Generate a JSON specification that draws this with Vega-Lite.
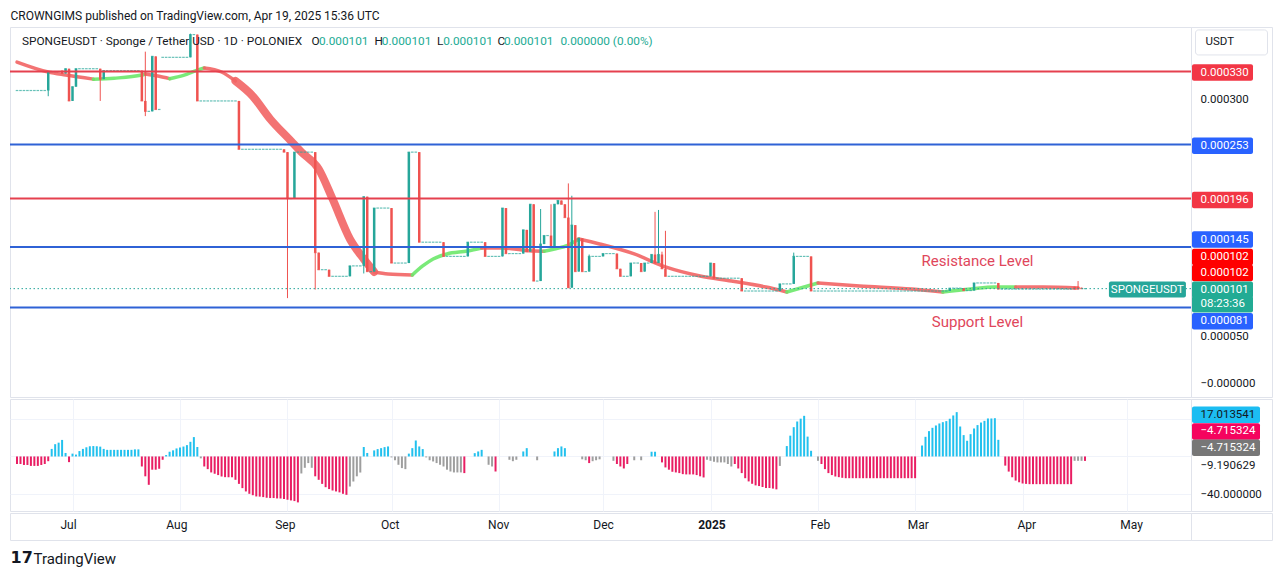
{
"$schema":"https://vega.github.io/schema/vega-lite/v6.json",
"background":"#ffffff",
"padding":{"left":8,"top":9,"right":0,"bottom":0},
"title":{"text":"CROWNGIMS published on TradingView.com, Apr 19, 2025 15:36 UTC","anchor":"start","frame":"bounds","fontSize":12,"fontWeight":"normal","color":"#131722","offset":4,"dx":2},
"config":{
 "font":"Roboto",
 "view":{"stroke":"#e0e3eb","strokeWidth":1},
 "concat":{"spacing":0},
 "axis":{"labels":false,"ticks":false,"domain":false,"grid":true,"gridColor":"#f0f3fa","gridWidth":1}
},
"datasets":{
"levels":[{"v":0.00033,"k":"r"},{"v":0.000253,"k":"b"},{"v":0.000196,"k":"r"},{"v":0.000145,"k":"b"},{"v":0.000081,"k":"b"}],
"last":[{"p":0.000101}],
"logo":[{"t":"17"}],
"legend":[
{"d":"2024-06-16T10:00:00Z","p":0.0003622,"t":"SPONGEUSDT · Sponge / Tether USD · 1D · POLONIEX","k":"k"},
{"d":"2024-09-07T22:00:00Z","p":0.0003622,"t":"O","k":"k"},
{"d":"2024-09-10T02:00:00Z","p":0.0003622,"t":"0.000101","k":"g"},
{"d":"2024-09-26T02:00:00Z","p":0.0003622,"t":"H","k":"k"},
{"d":"2024-09-28T05:00:00Z","p":0.0003622,"t":"0.000101","k":"g"},
{"d":"2024-10-14T03:00:00Z","p":0.0003622,"t":"L","k":"k"},
{"d":"2024-10-15T22:00:00Z","p":0.0003622,"t":"0.000101","k":"g"},
{"d":"2024-10-31T13:00:00Z","p":0.0003622,"t":"C","k":"k"},
{"d":"2024-11-02T10:00:00Z","p":0.0003622,"t":"0.000101","k":"g"},
{"d":"2024-11-18T17:00:00Z","p":0.0003622,"t":"0.000000 (0.00%)","k":"g"}
],
"annot":[{"d":"2025-03-19","p":0.0001305,"t":"Resistance Level"},{"d":"2025-03-19","p":0.0000655,"t":"Support Level"}],
"sym":[{"d":"2025-05-07","p":0.0001,"t":"SPONGEUSDT"}],
"usdt":[{"at":0.0003607,"t":"USDT"}],
"plabels":[
{"at":0.000329,"t":"0.000330","k":"r"},
{"at":0.0003,"t":"0.000300","k":"p"},
{"at":0.0002518,"t":"0.000253","k":"b"},
{"at":0.0001945,"t":"0.000196","k":"r"},
{"at":0.0001528,"t":"0.000145","k":"b"},
{"at":0.0001344,"t":"0.000102","k":"x"},
{"at":0.0001175,"t":"0.000102","k":"x"},
{"at":0.0000999,"t":"0.000101","k":"t"},
{"at":0.0000845,"t":"08:23:36","k":"t"},
{"at":0.0000666,"t":"0.000081","k":"b"},
{"at":0.00005,"t":"0.000050","k":"p"},
{"at":0,"t":"−0.000000","k":"p"}
],
"hlabels":[
{"at":44.1,"t":"17.013541","k":"c"},
{"at":26.5,"t":"−4.715324","k":"m"},
{"at":9.3,"t":"−4.715324","k":"g"},
{"at":-10,"t":"−9.190629","k":"p"},
{"at":-40.5,"t":"−40.000000","k":"p"}
],
"ma":[
{"d":"2024-06-15","m":0.00034,"s":1,"dir":"dn"},
{"d":"2024-06-24","m":0.0003295,"s":1,"dir":"dn"},
{"d":"2024-06-29","m":0.0003263,"s":1,"dir":"dn"},
{"d":"2024-07-07","m":0.000322,"s":1,"dir":"dn"},
{"d":"2024-07-07","m":0.000322,"s":2,"dir":"up"},
{"d":"2024-07-13","m":0.000323,"s":2,"dir":"up"},
{"d":"2024-07-21","m":0.0003263,"s":2,"dir":"up"},
{"d":"2024-07-22","m":0.0003274,"s":2,"dir":"up"},
{"d":"2024-07-22","m":0.0003274,"s":3,"dir":"dn"},
{"d":"2024-07-26","m":0.000325,"s":3,"dir":"dn"},
{"d":"2024-07-29","m":0.0003225,"s":3,"dir":"dn"},
{"d":"2024-07-29","m":0.0003225,"s":4,"dir":"up"},
{"d":"2024-08-02","m":0.000326,"s":4,"dir":"up"},
{"d":"2024-08-06","m":0.0003316,"s":4,"dir":"up"},
{"d":"2024-08-08","m":0.0003338,"s":4,"dir":"up"},
{"d":"2024-08-08","m":0.0003338,"s":5,"dir":"dn"},
{"d":"2024-08-13","m":0.0003295,"s":5,"dir":"dn"},
{"d":"2024-08-17","m":0.00032,"s":5,"dir":"dn"},
{"d":"2024-08-17","m":0.00032,"s":6,"dir":"dn"},
{"d":"2024-08-22","m":0.000304,"s":6,"dir":"dn"},
{"d":"2024-08-27","m":0.00028,"s":6,"dir":"dn"},
{"d":"2024-09-02","m":0.0002568,"s":6,"dir":"dn"},
{"d":"2024-09-05","m":0.0002451,"s":6,"dir":"dn"},
{"d":"2024-09-10","m":0.0002272,"s":6,"dir":"dn"},
{"d":"2024-09-14","m":0.0001956,"s":6,"dir":"dn"},
{"d":"2024-09-19","m":0.0001534,"s":6,"dir":"dn"},
{"d":"2024-09-23","m":0.0001323,"s":6,"dir":"dn"},
{"d":"2024-09-26","m":0.0001186,"s":6,"dir":"dn"},
{"d":"2024-09-26","m":0.0001186,"s":7,"dir":"dn"},
{"d":"2024-09-30","m":0.0001165,"s":7,"dir":"dn"},
{"d":"2024-10-07","m":0.0001154,"s":7,"dir":"dn"},
{"d":"2024-10-07","m":0.0001154,"s":8,"dir":"up"},
{"d":"2024-10-10","m":0.0001249,"s":8,"dir":"up"},
{"d":"2024-10-13","m":0.0001323,"s":8,"dir":"up"},
{"d":"2024-10-17","m":0.0001376,"s":8,"dir":"up"},
{"d":"2024-10-23","m":0.0001407,"s":8,"dir":"up"},
{"d":"2024-10-27","m":0.0001439,"s":8,"dir":"up"},
{"d":"2024-10-27","m":0.0001439,"s":9,"dir":"dn"},
{"d":"2024-11-02","m":0.0001439,"s":9,"dir":"dn"},
{"d":"2024-11-06","m":0.0001425,"s":9,"dir":"dn"},
{"d":"2024-11-11","m":0.0001407,"s":9,"dir":"dn"},
{"d":"2024-11-14","m":0.0001405,"s":9,"dir":"dn"},
{"d":"2024-11-14","m":0.0001405,"s":10,"dir":"up"},
{"d":"2024-11-17","m":0.0001428,"s":10,"dir":"up"},
{"d":"2024-11-21","m":0.000147,"s":10,"dir":"up"},
{"d":"2024-11-24","m":0.0001534,"s":10,"dir":"up"},
{"d":"2024-11-24","m":0.0001534,"s":11,"dir":"dn"},
{"d":"2024-11-30","m":0.0001481,"s":11,"dir":"dn"},
{"d":"2024-12-10","m":0.0001376,"s":11,"dir":"dn"},
{"d":"2024-12-19","m":0.0001239,"s":11,"dir":"dn"},
{"d":"2024-12-29","m":0.0001143,"s":11,"dir":"dn"},
{"d":"2025-01-07","m":0.0001091,"s":11,"dir":"dn"},
{"d":"2025-01-17","m":0.0001027,"s":11,"dir":"dn"},
{"d":"2025-01-23","m":0.0000975,"s":11,"dir":"dn"},
{"d":"2025-01-23","m":0.0000975,"s":12,"dir":"up"},
{"d":"2025-01-28","m":0.0001027,"s":12,"dir":"up"},
{"d":"2025-02-01","m":0.000107,"s":12,"dir":"up"},
{"d":"2025-02-01","m":0.000107,"s":13,"dir":"dn"},
{"d":"2025-02-13","m":0.0001038,"s":13,"dir":"dn"},
{"d":"2025-02-28","m":0.0001006,"s":13,"dir":"dn"},
{"d":"2025-03-09","m":0.0000975,"s":13,"dir":"dn"},
{"d":"2025-03-09","m":0.0000975,"s":14,"dir":"up"},
{"d":"2025-03-17","m":0.0001006,"s":14,"dir":"up"},
{"d":"2025-03-24","m":0.0001027,"s":14,"dir":"up"},
{"d":"2025-03-30","m":0.0001027,"s":14,"dir":"up"},
{"d":"2025-03-30","m":0.0001027,"s":15,"dir":"dn"},
{"d":"2025-04-07","m":0.0001027,"s":15,"dir":"dn"},
{"d":"2025-04-17","m":0.0001017,"s":15,"dir":"dn"}
],
"candles":[
{"d":"2024-06-15","c":0.00031},{"d":"2024-06-16","c":0.00031},{"d":"2024-06-17","c":0.00031},{"d":"2024-06-18","c":0.00031},{"d":"2024-06-19","c":0.00031},{"d":"2024-06-20","c":0.00031},{"d":"2024-06-21","c":0.00031},{"d":"2024-06-22","c":0.00031},{"d":"2024-06-23","c":0.00031},
{"d":"2024-06-24","o":0.00031,"h":0.00033,"l":0.000304,"c":0.00033},
{"d":"2024-06-25","c":0.00033},{"d":"2024-06-26","c":0.00033},{"d":"2024-06-27","c":0.00033},
{"d":"2024-06-28","o":0.000331,"h":0.000331,"l":0.000328,"c":0.000328},
{"d":"2024-06-29","o":0.000328,"h":0.000333,"l":0.000328,"c":0.000333},
{"d":"2024-06-30","o":0.000333,"h":0.000333,"l":0.000299,"c":0.000299},
{"d":"2024-07-01","o":0.000299,"h":0.000314,"l":0.000299,"c":0.000314},
{"d":"2024-07-02","o":0.000314,"h":0.000333,"l":0.000314,"c":0.000333},
{"d":"2024-07-03","c":0.000333},{"d":"2024-07-04","c":0.000333},{"d":"2024-07-05","c":0.000333},{"d":"2024-07-06","c":0.000333},{"d":"2024-07-07","c":0.000333},{"d":"2024-07-08","c":0.000333},
{"d":"2024-07-09","o":0.000333,"h":0.000333,"l":0.000299,"c":0.000322},
{"d":"2024-07-10","o":0.000322,"h":0.000331,"l":0.000322,"c":0.000331},
{"d":"2024-07-11","c":0.000331},{"d":"2024-07-12","c":0.000331},{"d":"2024-07-13","c":0.000331},{"d":"2024-07-14","c":0.000331},{"d":"2024-07-15","c":0.000331},{"d":"2024-07-16","c":0.000331},{"d":"2024-07-17","c":0.000331},{"d":"2024-07-18","c":0.000331},{"d":"2024-07-19","c":0.000331},{"d":"2024-07-20","c":0.000331},
{"d":"2024-07-21","o":0.000331,"h":0.000331,"l":0.000299,"c":0.000299},
{"d":"2024-07-22","o":0.000299,"h":0.000351,"l":0.000283,"c":0.000288},
{"d":"2024-07-23","c":0.000288},
{"d":"2024-07-24","o":0.000288,"h":0.000346,"l":0.000288,"c":0.000346},
{"d":"2024-07-25","o":0.000346,"h":0.000346,"l":0.00029,"c":0.00029},
{"d":"2024-07-26","c":0.00029},
{"d":"2024-07-27","c":0.000345},{"d":"2024-07-28","c":0.000345},{"d":"2024-07-29","c":0.000345},{"d":"2024-07-30","c":0.000345},{"d":"2024-07-31","c":0.000345},{"d":"2024-08-01","c":0.000345},{"d":"2024-08-02","c":0.000345},{"d":"2024-08-03","c":0.000345},
{"d":"2024-08-04","o":0.000345,"h":0.00037,"l":0.000345,"c":0.000369},
{"d":"2024-08-05","c":0.000369},
{"d":"2024-08-06","o":0.000369,"h":0.000369,"l":0.000299,"c":0.000299},
{"d":"2024-08-07","c":0.000299},{"d":"2024-08-08","c":0.000299},{"d":"2024-08-09","c":0.000299},{"d":"2024-08-10","c":0.000299},{"d":"2024-08-11","c":0.000299},{"d":"2024-08-12","c":0.000299},{"d":"2024-08-13","c":0.000299},{"d":"2024-08-14","c":0.000299},{"d":"2024-08-15","c":0.000299},{"d":"2024-08-16","c":0.000299},{"d":"2024-08-17","c":0.000299},
{"d":"2024-08-18","o":0.000299,"h":0.000299,"l":0.000248,"c":0.000248},
{"d":"2024-08-19","c":0.000248},{"d":"2024-08-20","c":0.000248},{"d":"2024-08-21","c":0.000248},{"d":"2024-08-22","c":0.000248},{"d":"2024-08-23","c":0.000248},{"d":"2024-08-24","c":0.000248},{"d":"2024-08-25","c":0.000248},{"d":"2024-08-26","c":0.000248},{"d":"2024-08-27","c":0.000248},{"d":"2024-08-28","c":0.000248},{"d":"2024-08-29","c":0.000248},{"d":"2024-08-30","c":0.000248},
{"d":"2024-08-31","o":0.000248,"h":0.000248,"l":0.000245,"c":0.000245},
{"d":"2024-09-01","o":0.000245,"h":0.000245,"l":0.000091,"c":0.000196},
{"d":"2024-09-02","c":0.000196},
{"d":"2024-09-03","o":0.000196,"h":0.000245,"l":0.000196,"c":0.000245},
{"d":"2024-09-04","c":0.000245},{"d":"2024-09-05","c":0.000245},{"d":"2024-09-06","c":0.000245},{"d":"2024-09-07","c":0.000245},{"d":"2024-09-08","c":0.000245},
{"d":"2024-09-09","o":0.000245,"h":0.000245,"l":0.0001,"c":0.000139},
{"d":"2024-09-10","o":0.000139,"h":0.000139,"l":0.000121,"c":0.000121},
{"d":"2024-09-11","c":0.000121},{"d":"2024-09-12","c":0.000121},
{"d":"2024-09-13","o":0.000121,"h":0.000121,"l":0.000114,"c":0.000114},
{"d":"2024-09-14","c":0.000114},{"d":"2024-09-15","c":0.000114},{"d":"2024-09-16","c":0.000114},{"d":"2024-09-17","c":0.000114},{"d":"2024-09-18","c":0.000114},
{"d":"2024-09-19","o":0.000114,"h":0.000125,"l":0.000114,"c":0.000125},
{"d":"2024-09-20","c":0.000125},{"d":"2024-09-21","c":0.000125},{"d":"2024-09-22","c":0.000125},
{"d":"2024-09-23","o":0.000125,"h":0.000198,"l":0.000117,"c":0.000198},
{"d":"2024-09-24","o":0.000198,"h":0.000198,"l":0.000119,"c":0.000119},
{"d":"2024-09-25","c":0.000119},
{"d":"2024-09-26","o":0.000119,"h":0.000186,"l":0.000119,"c":0.000186},
{"d":"2024-09-27","c":0.000186},{"d":"2024-09-28","c":0.000186},{"d":"2024-09-29","c":0.000186},{"d":"2024-09-30","c":0.000186},
{"d":"2024-10-01","o":0.000186,"h":0.000186,"l":0.000128,"c":0.000128},
{"d":"2024-10-02","c":0.000128},{"d":"2024-10-03","c":0.000128},{"d":"2024-10-04","c":0.000128},{"d":"2024-10-05","c":0.000128},
{"d":"2024-10-06","o":0.000128,"h":0.000245,"l":0.000128,"c":0.000245},
{"d":"2024-10-07","c":0.000245},{"d":"2024-10-08","c":0.000245},
{"d":"2024-10-09","o":0.000245,"h":0.000245,"l":0.00015,"c":0.00015},
{"d":"2024-10-10","c":0.00015},{"d":"2024-10-11","c":0.00015},{"d":"2024-10-12","c":0.00015},{"d":"2024-10-13","c":0.00015},{"d":"2024-10-14","c":0.00015},{"d":"2024-10-15","c":0.00015},
{"d":"2024-10-16","o":0.00015,"h":0.00015,"l":0.000135,"c":0.000135},
{"d":"2024-10-17","c":0.000135},{"d":"2024-10-18","c":0.000135},{"d":"2024-10-19","c":0.000135},{"d":"2024-10-20","c":0.000135},{"d":"2024-10-21","c":0.000135},{"d":"2024-10-22","c":0.000135},
{"d":"2024-10-23","o":0.000135,"h":0.00015,"l":0.000135,"c":0.00015},
{"d":"2024-10-24","c":0.00015},{"d":"2024-10-25","c":0.00015},{"d":"2024-10-26","c":0.00015},{"d":"2024-10-27","c":0.00015},
{"d":"2024-10-28","o":0.00015,"h":0.00015,"l":0.000135,"c":0.000135},
{"d":"2024-10-29","c":0.000135},{"d":"2024-10-30","c":0.000135},{"d":"2024-10-31","c":0.000135},{"d":"2024-11-01","c":0.000135},
{"d":"2024-11-02","o":0.000135,"h":0.000186,"l":0.000135,"c":0.000186},
{"d":"2024-11-03","o":0.000186,"h":0.000186,"l":0.000138,"c":0.000138},
{"d":"2024-11-04","c":0.000138},{"d":"2024-11-05","c":0.000138},{"d":"2024-11-06","c":0.000138},{"d":"2024-11-07","c":0.000138},
{"d":"2024-11-08","o":0.000138,"h":0.000163,"l":0.000138,"c":0.000163},
{"d":"2024-11-09","o":0.000163,"h":0.000163,"l":0.00014,"c":0.00014},
{"d":"2024-11-10","o":0.00014,"h":0.00019,"l":0.00014,"c":0.00019},
{"d":"2024-11-11","o":0.00019,"h":0.00019,"l":0.000109,"c":0.000109},
{"d":"2024-11-12","c":0.000109},
{"d":"2024-11-13","o":0.000109,"h":0.000185,"l":0.000109,"c":0.000148},
{"d":"2024-11-14","o":0.000148,"h":0.000157,"l":0.000148,"c":0.000157},
{"d":"2024-11-15","c":0.000157},
{"d":"2024-11-16","o":0.000157,"h":0.00019,"l":0.000145,"c":0.000145},
{"d":"2024-11-17","o":0.000145,"h":0.00019,"l":0.000145,"c":0.00019},
{"d":"2024-11-18","o":0.00019,"h":0.000194,"l":0.00019,"c":0.000194},
{"d":"2024-11-19","o":0.000194,"h":0.000194,"l":0.00019,"c":0.00019},
{"d":"2024-11-20","o":0.00019,"h":0.00019,"l":0.000176,"c":0.000176},
{"d":"2024-11-21","o":0.000176,"h":0.000212,"l":0.000102,"c":0.000102},
{"d":"2024-11-22","o":0.000102,"h":0.000199,"l":0.000102,"c":0.000168},
{"d":"2024-11-23","o":0.000168,"h":0.000168,"l":0.000119,"c":0.000119},
{"d":"2024-11-24","o":0.000119,"h":0.000154,"l":0.000119,"c":0.000154},
{"d":"2024-11-25","o":0.000154,"h":0.000154,"l":0.000119,"c":0.000119},
{"d":"2024-11-26","c":0.000119},
{"d":"2024-11-27","o":0.000119,"h":0.000137,"l":0.000119,"c":0.000135},
{"d":"2024-11-28","c":0.000135},{"d":"2024-11-29","c":0.000135},{"d":"2024-11-30","c":0.000135},
{"d":"2024-12-01","o":0.000135,"h":0.000138,"l":0.000135,"c":0.000138},
{"d":"2024-12-02","c":0.000138},{"d":"2024-12-03","c":0.000138},{"d":"2024-12-04","c":0.000138},
{"d":"2024-12-05","o":0.000138,"h":0.000138,"l":0.000122,"c":0.000122},
{"d":"2024-12-06","o":0.000122,"h":0.000122,"l":0.000114,"c":0.000114},
{"d":"2024-12-07","c":0.000114},{"d":"2024-12-08","c":0.000114},
{"d":"2024-12-09","o":0.000114,"h":0.000128,"l":0.000114,"c":0.000128},
{"d":"2024-12-10","c":0.000128},{"d":"2024-12-11","c":0.000128},
{"d":"2024-12-12","o":0.000128,"h":0.000128,"l":0.000119,"c":0.000119},
{"d":"2024-12-13","o":0.000119,"h":0.000128,"l":0.000119,"c":0.000128},
{"d":"2024-12-14","c":0.000128},
{"d":"2024-12-15","o":0.000128,"h":0.000137,"l":0.000128,"c":0.000137},
{"d":"2024-12-16","o":0.000137,"h":0.000182,"l":0.000128,"c":0.000128},
{"d":"2024-12-17","o":0.000128,"h":0.000184,"l":0.000128,"c":0.000137},
{"d":"2024-12-18","o":0.000137,"h":0.00014,"l":0.000122,"c":0.000122},
{"d":"2024-12-19","o":0.000122,"h":0.000162,"l":0.000114,"c":0.000114},
{"d":"2024-12-20","c":0.000114},{"d":"2024-12-21","c":0.000114},{"d":"2024-12-22","c":0.000114},{"d":"2024-12-23","c":0.000114},{"d":"2024-12-24","c":0.000114},{"d":"2024-12-25","c":0.000114},{"d":"2024-12-26","c":0.000114},{"d":"2024-12-27","c":0.000114},{"d":"2024-12-28","c":0.000114},{"d":"2024-12-29","c":0.000114},{"d":"2024-12-30","c":0.000114},{"d":"2024-12-31","c":0.000114},
{"d":"2025-01-01","o":0.000114,"h":0.000128,"l":0.000114,"c":0.000128},
{"d":"2025-01-02","o":0.000128,"h":0.000128,"l":0.000112,"c":0.000112},
{"d":"2025-01-03","c":0.000112},{"d":"2025-01-04","c":0.000112},{"d":"2025-01-05","c":0.000112},{"d":"2025-01-06","c":0.000112},{"d":"2025-01-07","c":0.000112},{"d":"2025-01-08","c":0.000112},{"d":"2025-01-09","c":0.000112},
{"d":"2025-01-10","o":0.000112,"h":0.000112,"l":0.0000985,"c":0.0000985},
{"d":"2025-01-11","c":0.0000985},{"d":"2025-01-12","c":0.0000985},{"d":"2025-01-13","c":0.0000985},{"d":"2025-01-14","c":0.0000985},{"d":"2025-01-15","c":0.0000985},{"d":"2025-01-16","c":0.0000985},{"d":"2025-01-17","c":0.0000985},{"d":"2025-01-18","c":0.0000985},{"d":"2025-01-19","c":0.0000985},{"d":"2025-01-20","c":0.0000985},
{"d":"2025-01-21","o":0.0000985,"h":0.000106,"l":0.0000985,"c":0.000106},
{"d":"2025-01-22","c":0.000106},{"d":"2025-01-23","c":0.000106},{"d":"2025-01-24","c":0.000106},
{"d":"2025-01-25","o":0.000106,"h":0.000139,"l":0.000106,"c":0.000135},
{"d":"2025-01-26","c":0.000135},{"d":"2025-01-27","c":0.000135},{"d":"2025-01-28","c":0.000135},{"d":"2025-01-29","c":0.000135},
{"d":"2025-01-30","o":0.000135,"h":0.000135,"l":0.0000985,"c":0.0000985},
{"d":"2025-01-31","c":0.0000985},
{"d":"2025-02-01","c":0.0000985},{"d":"2025-02-02","c":0.0000985},{"d":"2025-02-03","c":0.0000985},{"d":"2025-02-04","c":0.0000985},{"d":"2025-02-05","c":0.0000985},{"d":"2025-02-06","c":0.0000985},{"d":"2025-02-07","c":0.0000985},{"d":"2025-02-08","c":0.0000985},{"d":"2025-02-09","c":0.0000985},{"d":"2025-02-10","c":0.0000985},{"d":"2025-02-11","c":0.0000985},{"d":"2025-02-12","c":0.0000985},{"d":"2025-02-13","c":0.0000985},{"d":"2025-02-14","c":0.0000985},
{"d":"2025-02-15","c":0.0000985},{"d":"2025-02-16","c":0.0000985},{"d":"2025-02-17","c":0.0000985},{"d":"2025-02-18","c":0.0000985},{"d":"2025-02-19","c":0.0000985},{"d":"2025-02-20","c":0.0000985},{"d":"2025-02-21","c":0.0000985},{"d":"2025-02-22","c":0.0000985},{"d":"2025-02-23","c":0.0000985},{"d":"2025-02-24","c":0.0000985},{"d":"2025-02-25","c":0.0000985},{"d":"2025-02-26","c":0.0000985},{"d":"2025-02-27","c":0.0000985},{"d":"2025-02-28","c":0.0000985},
{"d":"2025-03-01","c":0.0000985},{"d":"2025-03-02","c":0.0000985},{"d":"2025-03-03","c":0.0000985},{"d":"2025-03-04","c":0.0000985},{"d":"2025-03-05","c":0.0000985},{"d":"2025-03-06","c":0.0000985},{"d":"2025-03-07","c":0.0000985},{"d":"2025-03-08","c":0.0000985},{"d":"2025-03-09","c":0.0000985},{"d":"2025-03-10","c":0.0000985},
{"d":"2025-03-11","o":0.0000985,"h":0.0001015,"l":0.0000985,"c":0.0001015},
{"d":"2025-03-12","c":0.0001015},{"d":"2025-03-13","c":0.0001015},{"d":"2025-03-14","c":0.0001015},
{"d":"2025-03-15","o":0.0001015,"h":0.0001015,"l":0.000099,"c":0.000099},
{"d":"2025-03-16","c":0.000099},{"d":"2025-03-17","c":0.000099},
{"d":"2025-03-18","o":0.000099,"h":0.000107,"l":0.000099,"c":0.000107},
{"d":"2025-03-19","c":0.000107},{"d":"2025-03-20","c":0.000107},{"d":"2025-03-21","c":0.000107},{"d":"2025-03-22","c":0.000107},{"d":"2025-03-23","c":0.000107},{"d":"2025-03-24","c":0.000107},
{"d":"2025-03-25","o":0.000107,"h":0.000107,"l":0.0001005,"c":0.0001005},
{"d":"2025-03-26","c":0.0001005},{"d":"2025-03-27","c":0.0001005},{"d":"2025-03-28","c":0.0001005},{"d":"2025-03-29","c":0.0001005},{"d":"2025-03-30","c":0.0001005},{"d":"2025-03-31","c":0.0001005},
{"d":"2025-04-01","c":0.0001005},{"d":"2025-04-02","c":0.0001005},{"d":"2025-04-03","c":0.0001005},{"d":"2025-04-04","c":0.0001005},{"d":"2025-04-05","c":0.0001005},{"d":"2025-04-06","c":0.0001005},{"d":"2025-04-07","c":0.0001005},{"d":"2025-04-08","c":0.0001005},{"d":"2025-04-09","c":0.0001005},{"d":"2025-04-10","c":0.0001005},{"d":"2025-04-11","c":0.0001005},{"d":"2025-04-12","c":0.0001005},{"d":"2025-04-13","c":0.0001005},{"d":"2025-04-14","c":0.0001005},{"d":"2025-04-15","c":0.0001005},
{"d":"2025-04-16","o":0.000103,"h":0.000103,"l":0.0001005,"c":0.0001005},
{"d":"2025-04-17","o":0.000103,"h":0.000109,"l":0.000101,"c":0.000101},
{"d":"2025-04-18","o":0.000102,"h":0.000102,"l":0.000101,"c":0.000101},
{"d":"2025-04-19","c":0.000101}
],
"hist":[
{"d":"2024-06-15","v":-8,"k":"d"},{"d":"2024-06-16","v":-8,"k":"d"},{"d":"2024-06-17","v":-9,"k":"d"},{"d":"2024-06-18","v":-9,"k":"d"},{"d":"2024-06-19","v":-10,"k":"d"},{"d":"2024-06-20","v":-10,"k":"d"},{"d":"2024-06-21","v":-10,"k":"d"},{"d":"2024-06-22","v":-9,"k":"d"},{"d":"2024-06-23","v":-8,"k":"d"},{"d":"2024-06-24","v":-5,"k":"d"},
{"d":"2024-06-25","v":8,"k":"u"},{"d":"2024-06-26","v":13,"k":"u"},{"d":"2024-06-27","v":14.6,"k":"u"},{"d":"2024-06-28","v":17.5,"k":"u"},{"d":"2024-06-29","v":3.7,"k":"u"},{"d":"2024-06-30","v":-6,"k":"d"},
{"d":"2024-07-01","v":3,"k":"u"},{"d":"2024-07-02","v":2,"k":"u"},{"d":"2024-07-03","v":5.7,"k":"u"},{"d":"2024-07-04","v":8,"k":"u"},{"d":"2024-07-05","v":9.7,"k":"u"},{"d":"2024-07-06","v":10.8,"k":"u"},{"d":"2024-07-07","v":11,"k":"u"},{"d":"2024-07-08","v":10.8,"k":"u"},{"d":"2024-07-09","v":10.4,"k":"u"},{"d":"2024-07-10","v":8,"k":"u"},
{"d":"2024-07-11","v":7,"k":"u"},{"d":"2024-07-12","v":7,"k":"u"},{"d":"2024-07-13","v":7,"k":"u"},{"d":"2024-07-14","v":7,"k":"u"},{"d":"2024-07-15","v":7,"k":"u"},{"d":"2024-07-16","v":7,"k":"u"},{"d":"2024-07-17","v":7,"k":"u"},{"d":"2024-07-18","v":7,"k":"u"},{"d":"2024-07-19","v":7.5,"k":"u"},{"d":"2024-07-20","v":7.5,"k":"u"},
{"d":"2024-07-21","v":-10.6,"k":"d"},{"d":"2024-07-22","v":-21,"k":"d"},{"d":"2024-07-23","v":-30,"k":"d"},{"d":"2024-07-24","v":-14,"k":"d"},{"d":"2024-07-25","v":-14,"k":"d"},{"d":"2024-07-26","v":-13,"k":"d"},{"d":"2024-07-27","v":-3.5,"k":"d"},
{"d":"2024-07-28","v":1.5,"k":"u"},{"d":"2024-07-29","v":5,"k":"u"},{"d":"2024-07-30","v":6.5,"k":"u"},{"d":"2024-07-31","v":8.5,"k":"u"},{"d":"2024-08-01","v":9.5,"k":"u"},{"d":"2024-08-02","v":10.5,"k":"u"},{"d":"2024-08-03","v":12,"k":"u"},{"d":"2024-08-04","v":15.5,"k":"u"},{"d":"2024-08-05","v":20.5,"k":"u"},{"d":"2024-08-06","v":10,"k":"u"},
{"d":"2024-08-07","v":-2,"k":"f"},
{"d":"2024-08-08","v":-10.6,"k":"d"},{"d":"2024-08-09","v":-13.4,"k":"d"},{"d":"2024-08-10","v":-16.9,"k":"d"},{"d":"2024-08-11","v":-18.3,"k":"d"},{"d":"2024-08-12","v":-19.7,"k":"d"},{"d":"2024-08-13","v":-21.2,"k":"d"},{"d":"2024-08-14","v":-21.9,"k":"d"},{"d":"2024-08-15","v":-22,"k":"d"},{"d":"2024-08-16","v":-22,"k":"d"},{"d":"2024-08-17","v":-24.7,"k":"d"},
{"d":"2024-08-18","v":-29,"k":"d"},{"d":"2024-08-19","v":-33.5,"k":"d"},{"d":"2024-08-20","v":-37,"k":"d"},{"d":"2024-08-21","v":-39.5,"k":"d"},{"d":"2024-08-22","v":-41,"k":"d"},{"d":"2024-08-23","v":-42.3,"k":"d"},{"d":"2024-08-24","v":-42.5,"k":"d"},{"d":"2024-08-25","v":-43,"k":"d"},{"d":"2024-08-26","v":-43.7,"k":"d"},{"d":"2024-08-27","v":-44,"k":"d"},
{"d":"2024-08-28","v":-44,"k":"d"},{"d":"2024-08-29","v":-44.4,"k":"d"},{"d":"2024-08-30","v":-44.5,"k":"d"},{"d":"2024-08-31","v":-45,"k":"d"},{"d":"2024-09-01","v":-45.8,"k":"d"},{"d":"2024-09-02","v":-46.5,"k":"d"},{"d":"2024-09-03","v":-47.2,"k":"d"},{"d":"2024-09-04","v":-48.6,"k":"d"},
{"d":"2024-09-05","v":-18,"k":"f"},{"d":"2024-09-06","v":-12,"k":"f"},{"d":"2024-09-07","v":-7,"k":"f"},{"d":"2024-09-08","v":-12,"k":"f"},
{"d":"2024-09-09","v":-21,"k":"d"},{"d":"2024-09-10","v":-24.7,"k":"d"},{"d":"2024-09-11","v":-29,"k":"d"},{"d":"2024-09-12","v":-32.5,"k":"d"},{"d":"2024-09-13","v":-34.5,"k":"d"},{"d":"2024-09-14","v":-36,"k":"d"},{"d":"2024-09-15","v":-37,"k":"d"},{"d":"2024-09-16","v":-38,"k":"d"},{"d":"2024-09-17","v":-39.5,"k":"d"},{"d":"2024-09-18","v":-40.6,"k":"d"},
{"d":"2024-09-19","v":-31.8,"k":"f"},{"d":"2024-09-20","v":-26.5,"k":"f"},{"d":"2024-09-21","v":-21,"k":"f"},{"d":"2024-09-22","v":-17,"k":"f"},
{"d":"2024-09-23","v":10,"k":"u"},{"d":"2024-09-24","v":3.7,"k":"u"},{"d":"2024-09-26","v":6.4,"k":"u"},{"d":"2024-09-27","v":7.8,"k":"u"},{"d":"2024-09-28","v":8.8,"k":"u"},{"d":"2024-09-29","v":9.9,"k":"u"},{"d":"2024-09-30","v":10.6,"k":"u"},
{"d":"2024-10-01","v":-1,"k":"f"},{"d":"2024-10-02","v":-4,"k":"f"},{"d":"2024-10-03","v":-8.8,"k":"f"},{"d":"2024-10-04","v":-12.3,"k":"f"},{"d":"2024-10-05","v":-13.4,"k":"f"},
{"d":"2024-10-06","v":3,"k":"u"},{"d":"2024-10-07","v":8.8,"k":"u"},{"d":"2024-10-08","v":16.9,"k":"u"},{"d":"2024-10-09","v":10.6,"k":"u"},{"d":"2024-10-10","v":7.8,"k":"u"},
{"d":"2024-10-11","v":-1,"k":"f"},{"d":"2024-10-12","v":-4,"k":"f"},{"d":"2024-10-13","v":-5.3,"k":"f"},{"d":"2024-10-14","v":-7,"k":"f"},{"d":"2024-10-15","v":-8.8,"k":"f"},{"d":"2024-10-16","v":-10.6,"k":"f"},{"d":"2024-10-17","v":-14,"k":"f"},{"d":"2024-10-18","v":-15.9,"k":"f"},{"d":"2024-10-19","v":-16.9,"k":"f"},{"d":"2024-10-20","v":-16.9,"k":"f"},{"d":"2024-10-21","v":-16.9,"k":"f"},
{"d":"2024-10-22","v":-17.6,"k":"d"},
{"d":"2024-10-25","v":3.5,"k":"u"},{"d":"2024-10-26","v":5.3,"k":"u"},{"d":"2024-10-27","v":7,"k":"u"},
{"d":"2024-10-29","v":-8.8,"k":"f"},{"d":"2024-10-30","v":-10.6,"k":"f"},{"d":"2024-10-31","v":-15.9,"k":"d"},
{"d":"2024-11-04","v":-3.5,"k":"f"},{"d":"2024-11-05","v":-5,"k":"f"},{"d":"2024-11-06","v":-3.5,"k":"f"},
{"d":"2024-11-08","v":5.3,"k":"u"},{"d":"2024-11-09","v":8.8,"k":"u"},
{"d":"2024-11-12","v":-4,"k":"f"},
{"d":"2024-11-17","v":5.3,"k":"u"},{"d":"2024-11-18","v":8.8,"k":"u"},{"d":"2024-11-19","v":10.6,"k":"u"},{"d":"2024-11-20","v":8.8,"k":"u"},
{"d":"2024-11-25","v":-3,"k":"f"},{"d":"2024-11-26","v":-4,"k":"f"},{"d":"2024-11-27","v":-7,"k":"d"},{"d":"2024-11-28","v":-5,"k":"f"},{"d":"2024-11-29","v":-4,"k":"f"},{"d":"2024-11-30","v":-3,"k":"f"},
{"d":"2024-12-04","v":-4.6,"k":"f"},
{"d":"2024-12-05","v":-8,"k":"d"},{"d":"2024-12-06","v":-10.6,"k":"d"},{"d":"2024-12-07","v":-12.7,"k":"d"},{"d":"2024-12-08","v":-8,"k":"d"},
{"d":"2024-12-10","v":-4,"k":"f"},{"d":"2024-12-12","v":-4,"k":"f"},
{"d":"2024-12-15","v":5,"k":"u"},{"d":"2024-12-16","v":5,"k":"u"},
{"d":"2024-12-18","v":-6.3,"k":"d"},{"d":"2024-12-19","v":-11.6,"k":"d"},{"d":"2024-12-20","v":-14,"k":"d"},{"d":"2024-12-21","v":-16.2,"k":"d"},{"d":"2024-12-22","v":-16.9,"k":"d"},{"d":"2024-12-23","v":-17.6,"k":"d"},{"d":"2024-12-24","v":-18.7,"k":"d"},{"d":"2024-12-25","v":-19,"k":"d"},{"d":"2024-12-26","v":-19,"k":"d"},{"d":"2024-12-27","v":-19,"k":"d"},{"d":"2024-12-28","v":-19.7,"k":"d"},{"d":"2024-12-29","v":-21,"k":"d"},{"d":"2024-12-30","v":-22.2,"k":"d"},
{"d":"2024-12-31","v":-3.5,"k":"f"},{"d":"2025-01-01","v":-4.6,"k":"f"},{"d":"2025-01-02","v":-5.6,"k":"f"},{"d":"2025-01-03","v":-6.3,"k":"f"},{"d":"2025-01-04","v":-6.3,"k":"f"},{"d":"2025-01-05","v":-6.3,"k":"f"},{"d":"2025-01-06","v":-8,"k":"f"},{"d":"2025-01-07","v":-10.6,"k":"f"},
{"d":"2025-01-08","v":-8,"k":"d"},{"d":"2025-01-09","v":-12.7,"k":"d"},{"d":"2025-01-10","v":-17.6,"k":"d"},{"d":"2025-01-11","v":-23,"k":"d"},{"d":"2025-01-12","v":-26.4,"k":"d"},{"d":"2025-01-13","v":-28.9,"k":"d"},{"d":"2025-01-14","v":-30.6,"k":"d"},{"d":"2025-01-15","v":-31.3,"k":"d"},{"d":"2025-01-16","v":-32.3,"k":"d"},{"d":"2025-01-17","v":-33.4,"k":"d"},{"d":"2025-01-18","v":-33.4,"k":"d"},{"d":"2025-01-19","v":-34,"k":"d"},{"d":"2025-01-20","v":-34.8,"k":"d"},
{"d":"2025-01-21","v":-10,"k":"f"},
{"d":"2025-01-23","v":11,"k":"u"},{"d":"2025-01-24","v":22,"k":"u"},{"d":"2025-01-25","v":31,"k":"u"},{"d":"2025-01-26","v":37,"k":"u"},{"d":"2025-01-27","v":40,"k":"u"},{"d":"2025-01-28","v":43,"k":"u"},{"d":"2025-01-29","v":21,"k":"u"},{"d":"2025-01-30","v":6,"k":"u"},
{"d":"2025-02-01","v":-4.6,"k":"f"},
{"d":"2025-02-02","v":-8,"k":"d"},{"d":"2025-02-03","v":-13.4,"k":"d"},{"d":"2025-02-04","v":-17.6,"k":"d"},{"d":"2025-02-05","v":-19.7,"k":"d"},{"d":"2025-02-06","v":-21.2,"k":"d"},{"d":"2025-02-07","v":-21.9,"k":"d"},{"d":"2025-02-08","v":-22.6,"k":"d"},
{"d":"2025-02-09","v":-23,"k":"d"},{"d":"2025-02-10","v":-23,"k":"d"},{"d":"2025-02-11","v":-23,"k":"d"},{"d":"2025-02-12","v":-23,"k":"d"},{"d":"2025-02-13","v":-23,"k":"d"},{"d":"2025-02-14","v":-23,"k":"d"},{"d":"2025-02-15","v":-23,"k":"d"},{"d":"2025-02-16","v":-23,"k":"d"},{"d":"2025-02-17","v":-23,"k":"d"},{"d":"2025-02-18","v":-23,"k":"d"},
{"d":"2025-02-19","v":-23,"k":"d"},{"d":"2025-02-20","v":-23,"k":"d"},{"d":"2025-02-21","v":-23,"k":"d"},{"d":"2025-02-22","v":-23,"k":"d"},{"d":"2025-02-23","v":-23,"k":"d"},{"d":"2025-02-24","v":-23,"k":"d"},{"d":"2025-02-25","v":-23,"k":"d"},{"d":"2025-02-26","v":-23,"k":"d"},{"d":"2025-02-27","v":-23,"k":"d"},{"d":"2025-02-28","v":-23,"k":"d"},{"d":"2025-03-01","v":-23,"k":"d"},
{"d":"2025-03-03","v":11.6,"k":"u"},{"d":"2025-03-04","v":20.8,"k":"u"},{"d":"2025-03-05","v":26.8,"k":"u"},{"d":"2025-03-06","v":30.3,"k":"u"},{"d":"2025-03-07","v":32.8,"k":"u"},{"d":"2025-03-08","v":34.9,"k":"u"},{"d":"2025-03-09","v":36.3,"k":"u"},{"d":"2025-03-10","v":37.4,"k":"u"},{"d":"2025-03-11","v":39.9,"k":"u"},{"d":"2025-03-12","v":43.4,"k":"u"},
{"d":"2025-03-13","v":46.9,"k":"u"},{"d":"2025-03-14","v":31.7,"k":"u"},{"d":"2025-03-15","v":22.6,"k":"u"},{"d":"2025-03-16","v":16.6,"k":"u"},{"d":"2025-03-17","v":23.6,"k":"u"},{"d":"2025-03-18","v":29.6,"k":"u"},{"d":"2025-03-19","v":33.2,"k":"u"},{"d":"2025-03-20","v":35.9,"k":"u"},{"d":"2025-03-21","v":37.7,"k":"u"},{"d":"2025-03-22","v":40.2,"k":"u"},{"d":"2025-03-23","v":40.2,"k":"u"},{"d":"2025-03-24","v":40.5,"k":"u"},{"d":"2025-03-25","v":17.6,"k":"u"},
{"d":"2025-03-27","v":-9.7,"k":"d"},{"d":"2025-03-28","v":-16,"k":"d"},{"d":"2025-03-29","v":-22,"k":"d"},{"d":"2025-03-30","v":-25.5,"k":"d"},{"d":"2025-03-31","v":-27.3,"k":"d"},{"d":"2025-04-01","v":-28.6,"k":"d"},{"d":"2025-04-02","v":-29,"k":"d"},
{"d":"2025-04-03","v":-29.3,"k":"d"},{"d":"2025-04-04","v":-29.3,"k":"d"},{"d":"2025-04-05","v":-29.3,"k":"d"},{"d":"2025-04-06","v":-29.3,"k":"d"},{"d":"2025-04-07","v":-29.3,"k":"d"},{"d":"2025-04-08","v":-29.3,"k":"d"},{"d":"2025-04-09","v":-29.3,"k":"d"},{"d":"2025-04-10","v":-29.3,"k":"d"},{"d":"2025-04-11","v":-29.3,"k":"d"},{"d":"2025-04-12","v":-29.3,"k":"d"},{"d":"2025-04-13","v":-29.3,"k":"d"},{"d":"2025-04-14","v":-29.3,"k":"d"},{"d":"2025-04-15","v":-29.3,"k":"d"},
{"d":"2025-04-16","v":-4.6,"k":"f"},{"d":"2025-04-17","v":-4.6,"k":"f"},{"d":"2025-04-18","v":-4.6,"k":"f"},{"d":"2025-04-19","v":-4.7,"k":"d"}
]
},
"spacing":0,
"vconcat":[
{"spacing":0,"bounds":"flush","hconcat":[
 {"width":1181,"height":370,"layer":[
  {"data":{"name":"ma"},"mark":{"type":"line","interpolate":"monotone","strokeCap":"round","strokeJoin":"round","opacity":0.9},
   "encoding":{
    "x":{"field":"d","type":"temporal","title":null,"scale":{"type":"utc","nice":false,"domain":[{"year":2024,"month":6,"date":14,"hours":10,"utc":true},{"year":2025,"month":5,"date":18,"hours":3,"utc":true}]},
      "axis":{"values":[{"year":2024,"month":7,"date":1,"utc":true},{"year":2024,"month":8,"date":1,"utc":true},{"year":2024,"month":9,"date":1,"utc":true},{"year":2024,"month":10,"date":1,"utc":true},{"year":2024,"month":11,"date":1,"utc":true},{"year":2024,"month":12,"date":1,"utc":true},{"year":2025,"month":1,"date":1,"utc":true},{"year":2025,"month":2,"date":1,"utc":true},{"year":2025,"month":3,"date":1,"utc":true},{"year":2025,"month":4,"date":1,"utc":true},{"year":2025,"month":5,"date":1,"utc":true}]}},
    "y":{"field":"m","type":"quantitative","title":null,"scale":{"domain":[-0.0000133,0.000377],"nice":false,"zero":false},"axis":{"values":[0,0.00005,0.0001,0.00015,0.0002,0.00025,0.0003,0.00035]}},
    "detail":{"field":"s","type":"nominal"},
    "color":{"condition":{"test":"datum.dir=='up'","value":"#6be86a"},"value":"#f26464"},
    "strokeWidth":{"condition":{"test":"datum.s==6","value":8},"value":3.5}
   }},
  {"data":{"name":"candles"},"mark":{"type":"rule","strokeWidth":1},
   "encoding":{
    "x":{"field":"d","type":"temporal","title":null,"axis":null,"scale":{"type":"utc","nice":false,"domain":[{"year":2024,"month":6,"date":14,"hours":10,"utc":true},{"year":2025,"month":5,"date":18,"hours":3,"utc":true}]}},
    "y":{"field":"l","type":"quantitative","title":null,"axis":null,"scale":{"domain":[-0.0000133,0.000377],"nice":false,"zero":false}},
    "y2":{"field":"h"},
    "color":{"condition":{"test":"datum.c<datum.o","value":"#ef5350"},"value":"#26a69a"}
   }},
  {"data":{"name":"candles"},"mark":{"type":"bar","width":2.5},
   "encoding":{
    "x":{"field":"d","type":"temporal","title":null,"axis":null,"scale":{"type":"utc","nice":false,"domain":[{"year":2024,"month":6,"date":14,"hours":10,"utc":true},{"year":2025,"month":5,"date":18,"hours":3,"utc":true}]}},
    "y":{"field":"o","type":"quantitative","title":null,"axis":null,"scale":{"domain":[-0.0000133,0.000377],"nice":false,"zero":false}},
    "y2":{"field":"c"},
    "color":{"condition":{"test":"datum.c<datum.o","value":"#ef5350"},"value":"#26a69a"}
   }},
  {"data":{"name":"candles"},"mark":{"type":"tick","orient":"horizontal","size":2.6,"thickness":1.2},
   "encoding":{
    "x":{"field":"d","type":"temporal","title":null,"axis":null,"scale":{"type":"utc","nice":false,"domain":[{"year":2024,"month":6,"date":14,"hours":10,"utc":true},{"year":2025,"month":5,"date":18,"hours":3,"utc":true}]}},
    "y":{"field":"c","type":"quantitative","title":null,"axis":null,"scale":{"domain":[-0.0000133,0.000377],"nice":false,"zero":false}},
    "color":{"condition":{"test":"datum.c<datum.o","value":"#ef5350"},"value":"#26a69a"}
   }},
  {"data":{"name":"levels"},"mark":{"type":"rule","strokeWidth":2},
   "encoding":{
    "y":{"field":"v","type":"quantitative","title":null,"axis":null,"scale":{"domain":[-0.0000133,0.000377],"nice":false,"zero":false}},
    "color":{"condition":{"test":"datum.k=='r'","value":"#e5404e"},"value":"#2f62d6"}
   }},
  {"data":{"name":"last"},"mark":{"type":"rule","strokeWidth":1,"strokeDash":[1.5,2.5],"color":"#26a69a"},
   "encoding":{
    "y":{"field":"p","type":"quantitative","title":null,"axis":null,"scale":{"domain":[-0.0000133,0.000377],"nice":false,"zero":false}}
   }},
  {"data":{"name":"legend"},"mark":{"type":"text","align":"left","baseline":"middle","fontSize":11.8},
   "encoding":{
    "x":{"field":"d","type":"temporal","title":null,"axis":null,"scale":{"type":"utc","nice":false,"domain":[{"year":2024,"month":6,"date":14,"hours":10,"utc":true},{"year":2025,"month":5,"date":18,"hours":3,"utc":true}]}},
    "y":{"field":"p","type":"quantitative","title":null,"axis":null,"scale":{"domain":[-0.0000133,0.000377],"nice":false,"zero":false}},
    "text":{"field":"t"},
    "color":{"condition":{"test":"datum.k=='g'","value":"#22ab94"},"value":"#131722"}
   }},
  {"data":{"name":"annot"},"mark":{"type":"text","align":"center","baseline":"middle","fontSize":15,"color":"#e0465b"},
   "encoding":{
    "x":{"field":"d","type":"temporal","title":null,"axis":null,"scale":{"type":"utc","nice":false,"domain":[{"year":2024,"month":6,"date":14,"hours":10,"utc":true},{"year":2025,"month":5,"date":18,"hours":3,"utc":true}]}},
    "y":{"field":"p","type":"quantitative","title":null,"axis":null,"scale":{"domain":[-0.0000133,0.000377],"nice":false,"zero":false}},
    "text":{"field":"t"}
   }},
  {"data":{"name":"sym"},"mark":{"type":"tick","orient":"horizontal","size":77,"thickness":16,"cornerRadius":2,"color":"#26a69a","opacity":1},
   "encoding":{
    "x":{"field":"d","type":"temporal","title":null,"axis":null,"scale":{"type":"utc","nice":false,"domain":[{"year":2024,"month":6,"date":14,"hours":10,"utc":true},{"year":2025,"month":5,"date":18,"hours":3,"utc":true}]}},
    "y":{"field":"p","type":"quantitative","title":null,"axis":null,"scale":{"domain":[-0.0000133,0.000377],"nice":false,"zero":false}}
   }},
  {"data":{"name":"sym"},"mark":{"type":"text","align":"center","baseline":"middle","fontSize":11.5,"color":"#ffffff"},
   "encoding":{
    "x":{"field":"d","type":"temporal","title":null,"axis":null,"scale":{"type":"utc","nice":false,"domain":[{"year":2024,"month":6,"date":14,"hours":10,"utc":true},{"year":2025,"month":5,"date":18,"hours":3,"utc":true}]}},
    "y":{"field":"p","type":"quantitative","title":null,"axis":null,"scale":{"domain":[-0.0000133,0.000377],"nice":false,"zero":false}},
    "text":{"field":"t"}
   }}
 ]},
 {"width":81,"height":370,"layer":[
  {"data":{"name":"usdt"},"mark":{"type":"tick","orient":"horizontal","size":72,"thickness":25,"color":"#ffffff","stroke":"#e0e3eb","strokeWidth":1,"cornerRadius":3,"opacity":1},
   "encoding":{"y":{"field":"at","type":"quantitative","title":null,"axis":null,"scale":{"domain":[-0.0000133,0.000377],"nice":false,"zero":false}}}},
  {"data":{"name":"usdt"},"mark":{"type":"text","align":"left","baseline":"middle","dx":-26,"fontSize":11.5,"color":"#131722"},
   "encoding":{"y":{"field":"at","type":"quantitative","title":null,"axis":null,"scale":{"domain":[-0.0000133,0.000377],"nice":false,"zero":false}},"text":{"field":"t"}}},
  {"data":{"name":"plabels"},"transform":[{"filter":"datum.k!='p'"}],"mark":{"type":"tick","orient":"horizontal","size":61,"thickness":16.5,"xOffset":-9,"cornerRadius":2,"opacity":1},
   "encoding":{"y":{"field":"at","type":"quantitative","title":null,"axis":null,"scale":{"domain":[-0.0000133,0.000377],"nice":false,"zero":false}},
    "color":{"condition":[{"test":"datum.k=='r'","value":"#f23645"},{"test":"datum.k=='b'","value":"#2962ff"},{"test":"datum.k=='x'","value":"#ff0000"}],"value":"#22ab94"}}},
  {"data":{"name":"plabels"},"mark":{"type":"text","align":"left","baseline":"middle","dx":-31,"fontSize":11.5},
   "encoding":{"y":{"field":"at","type":"quantitative","title":null,"axis":null,"scale":{"domain":[-0.0000133,0.000377],"nice":false,"zero":false}},
    "text":{"field":"t"},
    "color":{"condition":{"test":"datum.k=='p'","value":"#131722"},"value":"#ffffff"}}}
 ]}
]},
{"spacing":0,"bounds":"flush","hconcat":[
 {"width":1181,"height":112,"layer":[
  {"data":{"name":"hist"},"mark":{"type":"bar","width":2},
   "encoding":{
    "x":{"field":"d","type":"temporal","title":null,"scale":{"type":"utc","nice":false,"domain":[{"year":2024,"month":6,"date":14,"hours":10,"utc":true},{"year":2025,"month":5,"date":18,"hours":3,"utc":true}]},
      "axis":{"values":[{"year":2024,"month":7,"date":1,"utc":true},{"year":2024,"month":8,"date":1,"utc":true},{"year":2024,"month":9,"date":1,"utc":true},{"year":2024,"month":10,"date":1,"utc":true},{"year":2024,"month":11,"date":1,"utc":true},{"year":2024,"month":12,"date":1,"utc":true},{"year":2025,"month":1,"date":1,"utc":true},{"year":2025,"month":2,"date":1,"utc":true},{"year":2025,"month":3,"date":1,"utc":true},{"year":2025,"month":4,"date":1,"utc":true},{"year":2025,"month":5,"date":1,"utc":true}]}},
    "y":{"field":"v","type":"quantitative","title":null,"scale":{"domain":[-57.7,60.8],"nice":false,"zero":false},"axis":{"values":[-40,0,40]}},
    "y2":{"datum":0},
    "color":{"condition":[{"test":"datum.k=='u'","value":"#22c1ee"},{"test":"datum.k=='d'","value":"#e91e63"}],"value":"#9e9e9e"}
   }}
 ]},
 {"width":81,"height":112,"layer":[
  {"data":{"name":"hlabels"},"transform":[{"filter":"datum.k!='p'"}],"mark":{"type":"tick","orient":"horizontal","size":68,"thickness":16.5,"xOffset":-5.5,"cornerRadius":2,"opacity":1},
   "encoding":{"y":{"field":"at","type":"quantitative","title":null,"axis":null,"scale":{"domain":[-57.7,60.8],"nice":false,"zero":false}},
    "color":{"condition":[{"test":"datum.k=='c'","value":"#1cbdf2"},{"test":"datum.k=='m'","value":"#f5035e"}],"value":"#777777"}}},
  {"data":{"name":"hlabels"},"mark":{"type":"text","align":"left","baseline":"middle","dx":-31,"fontSize":11.5},
   "encoding":{"y":{"field":"at","type":"quantitative","title":null,"axis":null,"scale":{"domain":[-57.7,60.8],"nice":false,"zero":false}},
    "text":{"field":"t"},
    "color":{"condition":[{"test":"datum.k=='m'","value":"#ffffff"},{"test":"datum.k=='g'","value":"#ffffff"}],"value":"#131722"}}}
 ]}
]},
{"spacing":0,"bounds":"flush","hconcat":[
 {"width":1181,"height":27,"data":{"name":"hist"},"mark":{"type":"tick","opacity":0},
  "encoding":{
   "x":{"field":"d","type":"temporal","title":"TradingView","scale":{"type":"utc","nice":false,"domain":[{"year":2024,"month":6,"date":14,"hours":10,"utc":true},{"year":2025,"month":5,"date":18,"hours":3,"utc":true}]},
    "axis":{"values":[{"year":2024,"month":7,"date":1,"utc":true},{"year":2024,"month":8,"date":1,"utc":true},{"year":2024,"month":9,"date":1,"utc":true},{"year":2024,"month":10,"date":1,"utc":true},{"year":2024,"month":11,"date":1,"utc":true},{"year":2024,"month":12,"date":1,"utc":true},{"year":2025,"month":1,"date":1,"utc":true},{"year":2025,"month":2,"date":1,"utc":true},{"year":2025,"month":3,"date":1,"utc":true},{"year":2025,"month":4,"date":1,"utc":true},{"year":2025,"month":5,"date":1,"utc":true}],
     "orient":"bottom","offset":-27,"labels":true,"grid":false,"domain":false,"ticks":false,"labelPadding":6,"labelFontSize":12,"labelColor":"#131722","labelFlush":false,"labelOverlap":false,"labelBound":false,
     "labelExpr":"utcmonth(datum.value)==0 ? utcFormat(datum.value,'%Y') : utcFormat(datum.value,'%b')",
     "labelFontWeight":{"condition":{"test":"utcmonth(datum.value)==0","value":"bold"},"value":"normal"},
     "titleX":23,"titleY":45,"titleAlign":"left","titleBaseline":"middle","titleFontSize":15,"titleFontWeight":"normal","titleColor":"#131722"}}
  }},
 {"width":81,"height":27,"view":{"stroke":"#e0e3eb","strokeWidth":1},"data":{"name":"logo"},"mark":{"type":"text","align":"left","baseline":"middle","dx":-1221,"dy":31.5,"fontSize":16,"fontWeight":"bold","font":"DejaVu Sans","color":"#131722"},
  "encoding":{"text":{"field":"t"}}}
]}
]
}
